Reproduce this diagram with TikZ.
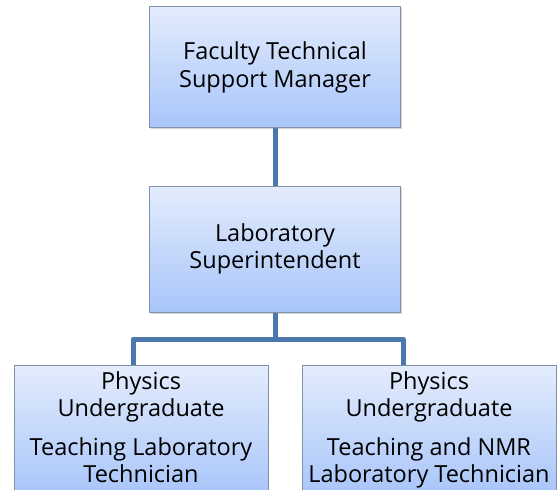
\documentclass[tikz,border=0pt]{standalone}
\usepackage{fontspec}
\setmainfont{Open Sans}
\usetikzlibrary{
	positioning,
	backgrounds,
	shadows
}
\definecolor{BoxTop}{RGB}{227,236,252}
\definecolor{BoxBottom}{RGB}{168,197,250}
\definecolor{BoxEdge}{RGB}{130,146,170}
\definecolor{LinkBlue}{RGB}{74,120,172}

\tikzset{
	rolebox/.style={draw=BoxEdge, line width=0.8pt, top color=BoxTop, bottom color=BoxBottom,
		minimum width=251, align=center, font=\fontsize{23.5}{27.5}\selectfont,
		drop shadow={shadow xshift=1pt, shadow yshift=-2pt, opacity=0.35}},
	link/.style={LinkBlue, line width=5pt}
}

\begin{document}
\begin{tikzpicture}[x=1pt, y=-1pt]
		\useasboundingbox (0,0) rectangle (557,490);
		\clip (0,0) rectangle (557,490);
		
		% 方框
		\node[rolebox, minimum height=121] (manager) at (275,66.5) {\strut Faculty Technical\\Support Manager};
		\node[rolebox, minimum height=126] (super) at (275,249) {Laboratory\\Superintendent};
		\node[rolebox, minimum width=254, minimum height=130, anchor=north] (physA) at (141,365)
			{Physics\strut\\Undergraduate\\[11pt]Teaching Laboratory\\Technician\strut};
		\node[rolebox, minimum width=254, minimum height=130, anchor=north] (physB) at (429,365)
			{Physics\strut\\Undergraduate\\[11pt]Teaching and NMR\\Laboratory Technician\strut};
		
		% 连线
		\coordinate (joinA) at (133,339);
		\coordinate (joinB) at (403,339);
		\begin{scope}[on background layer]
			\draw[link] (manager.south) -- (super.north);
			\draw[link] (super.south) -- (super.south |- joinA);
			\draw[link, line join=round] (joinA |- physA.north) -- (joinA) -- (joinB) -- (joinB |- physB.north);
		\end{scope}
	\end{tikzpicture}
\end{document}
